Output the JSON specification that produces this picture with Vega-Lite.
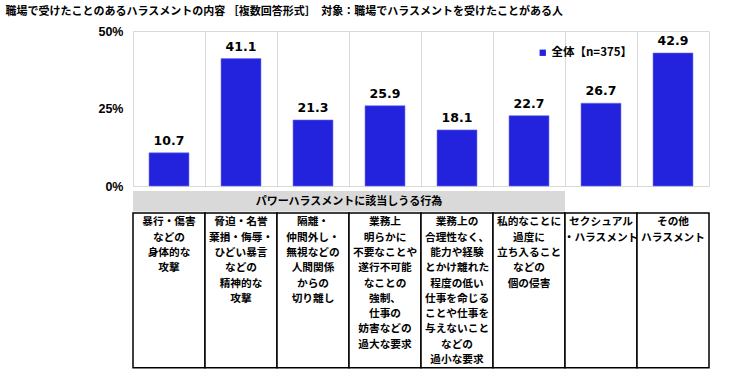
{
  "$schema": "https://vega.github.io/schema/vega-lite/v6.json",
  "padding": {"left": 5, "top": 5, "right": 5, "bottom": 0},
  "background": "white",
  "title": {
    "text": "職場で受けたことのあるハラスメントの内容 ［複数回答形式］　対象：職場でハラスメントを受けたことがある人",
    "anchor": "start",
    "font": "Noto Sans CJK JP",
    "fontSize": 11,
    "fontWeight": "bold",
    "color": "black",
    "offset": 8
  },
  "datasets": {
    "items": [
      {"cat": "暴行・傷害などの身体的な攻撃", "label": "暴行・傷害\nなどの\n身体的な\n攻撃", "value": 10.7, "group": "パワーハラスメントに該当しうる行為"},
      {"cat": "脅迫・名誉棄損・侮辱・ひどい暴言などの精神的な攻撃", "label": "脅迫・名誉\n棄損・侮辱・\nひどい暴言\nなどの\n精神的な\n攻撃", "value": 41.1, "group": "パワーハラスメントに該当しうる行為"},
      {"cat": "隔離・仲間外し・無視などの人間関係からの切り離し", "label": "隔離・\n仲間外し・\n無視などの\n人間関係\nからの\n切り離し", "value": 21.3, "group": "パワーハラスメントに該当しうる行為"},
      {"cat": "業務上明らかに不要なことや遂行不可能なことの強制、仕事の妨害などの過大な要求", "label": "業務上\n明らかに\n不要なことや\n遂行不可能\nなことの\n強制、\n仕事の\n妨害などの\n過大な要求", "value": 25.9, "group": "パワーハラスメントに該当しうる行為"},
      {"cat": "業務上の合理性なく、能力や経験とかけ離れた程度の低い仕事を命じることや仕事を与えないことなどの過小な要求", "label": "業務上の\n合理性なく、\n能力や経験\nとかけ離れた\n程度の低い\n仕事を命じる\nことや仕事を\n与えないこと\nなどの\n過小な要求", "value": 18.1, "group": "パワーハラスメントに該当しうる行為"},
      {"cat": "私的なことに過度に立ち入ることなどの個の侵害", "label": "私的なことに\n過度に\n立ち入ること\nなどの\n個の侵害", "value": 22.7, "group": "パワーハラスメントに該当しうる行為"},
      {"cat": "セクシュアル・ハラスメント", "label": "セクシュアル\n・ハラスメント", "value": 26.7, "group": null},
      {"cat": "その他ハラスメント", "label": "その他\nハラスメント", "value": 42.9, "group": null}
    ]
  },
  "data": {"name": "items"},
  "bounds": "flush",
  "spacing": 5,
  "config": {"view": {"stroke": null}},
  "vconcat": [
    {
      "width": 576,
      "height": 155,
      "view": {"stroke": "#d9d9d9", "strokeWidth": 1},
      "encoding": {
        "x": {
          "field": "cat", "type": "nominal", "sort": null,
          "scale": {"paddingInner": 0, "paddingOuter": 0},
          "axis": {"bandPosition": 0, "grid": true, "gridColor": "#d9d9d9", "labels": false, "ticks": false, "domain": false, "title": null}
        }
      },
      "layer": [
        {
          "mark": {"type": "bar", "width": {"band": 0.555}, "stroke": "#7070ee", "strokeWidth": 0.6},
          "encoding": {
            "y": {
              "field": "value", "type": "quantitative",
              "scale": {"domain": [0, 50]},
              "axis": {
                "values": [0, 25, 50], "labelExpr": "datum.value + '%'",
                "grid": false, "ticks": false, "domain": false, "title": null,
                "labelFont": "Liberation Sans", "labelFontWeight": "bold", "labelFontSize": 12.5,
                "labelColor": "black", "labelPadding": 10, "minExtent": 127
              }
            },
            "color": {
              "datum": "全体【n=375】",
              "type": "nominal",
              "scale": {"range": ["#2323dd"]},
              "legend": {
                "orient": "none", "legendX": 404, "legendY": 16, "title": null,
                "symbolType": "square", "symbolSize": 40, "symbolStrokeWidth": 0,
                "labelFont": "Noto Sans CJK JP", "labelFontWeight": "bold", "labelFontSize": 11.5,
                "labelColor": "black", "labelOffset": 3
              }
            }
          }
        },
        {
          "mark": {"type": "text", "baseline": "alphabetic", "dy": -8, "font": "DejaVu Sans", "fontWeight": "bold", "fontSize": 12.5, "color": "black"},
          "encoding": {
            "y": {"field": "value", "type": "quantitative"},
            "text": {"field": "value", "type": "quantitative", "format": ".1f"}
          }
        }
      ]
    },
    {
      "width": 576,
      "height": 177,
      "encoding": {
        "x": {"field": "cat", "type": "nominal", "sort": null, "scale": {"paddingInner": 0, "paddingOuter": 0}, "axis": null}
      },
      "layer": [
        {
          "transform": [{"filter": "datum.group != null"}],
          "mark": {"type": "rect", "fill": "#d9d9d9"},
          "encoding": {
            "y": {
              "datum": 0, "type": "quantitative",
              "scale": {"domain": [0, 8.045], "reverse": true, "nice": false, "zero": false},
              "axis": {"minExtent": 127, "labels": false, "ticks": false, "domain": false, "grid": false, "title": null}
            },
            "y2": {"datum": 0.93}
          }
        },
        {
          "transform": [{"filter": "datum.cat == '業務上明らかに不要なことや遂行不可能なことの強制、仕事の妨害などの過大な要求'"}],
          "mark": {"type": "text", "baseline": "middle", "align": "center", "font": "Noto Sans CJK JP", "fontWeight": "bold", "fontSize": 11, "color": "black"},
          "encoding": {
            "x": {"field": "cat", "type": "nominal", "sort": null, "bandPosition": 0},
            "y": {"datum": 0.5, "type": "quantitative"},
            "text": {"field": "group"}
          }
        },
        {
          "mark": {"type": "rect", "fill": "white", "stroke": "black", "strokeWidth": 1.5},
          "encoding": {
            "y": {"datum": 1, "type": "quantitative"},
            "y2": {"datum": 8.03}
          }
        },
        {
          "mark": {"type": "text", "baseline": "top", "align": "center", "lineBreak": "\n", "lineHeight": 15.3, "font": "Noto Sans CJK JP", "fontWeight": "bold", "fontSize": 10.7, "color": "black"},
          "encoding": {
            "y": {"datum": 1.2, "type": "quantitative"},
            "text": {"field": "label"}
          }
        }
      ]
    }
  ]
}
